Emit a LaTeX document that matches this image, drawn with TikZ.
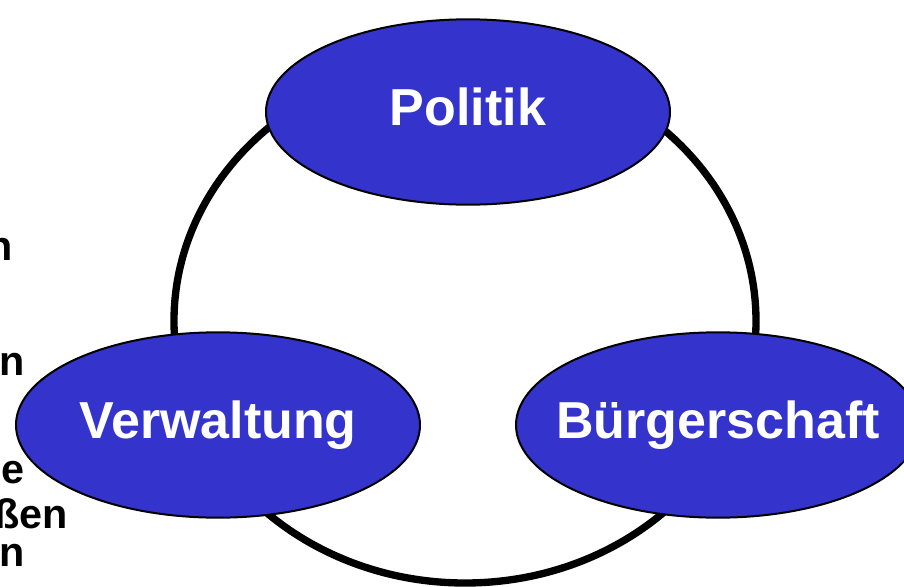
\documentclass[tikz,border=0pt]{standalone}
\usepackage{fontspec}
\setmainfont{Liberation Sans}
\usepackage{tikz}
\usetikzlibrary{shapes}
\definecolor{bubbleblue}{RGB}{52,52,204}

\begin{document}
\begin{tikzpicture}[x=0.75pt, y=-0.75pt,
	bubble/.style={ellipse, draw=black, line width=1.5pt, fill=bubbleblue, minimum width=303pt, minimum height=139pt, inner sep=0},
	bubbletext/.style={text=white, font=\fontsize{39}{45}\selectfont\bfseries, inner sep=0, text height=28pt, text depth=8pt},
	fragment/.style={anchor=base east, inner sep=0, font=\fontsize{31}{36}\selectfont\bfseries},
	ring/.style={draw=black, line width=5.5pt}
]
\useasboundingbox (0,0) rectangle (904,586);

% cut-off text at the left edge
\node[fragment] (frag1) at (13,260) {n};
\node[fragment] (frag2) at (25,375) {n};
\node[fragment] (frag3) at (25,483) {e};
\node[fragment] (frag4) at (68,528) {ßen};
\node[fragment] (frag5) at (25,566) {n};

% the ring
\coordinate (mid) at (465,321);
\draw[ring] (mid) ellipse [x radius=291, y radius=262];

\node[bubble, label={[bubbletext]center:Politik}] (pol) at (468,112) {};
\node[bubble, label={[bubbletext]center:Verwaltung}] (verw) at (218,425) {};
\node[bubble, label={[bubbletext]center:Bürgerschaft}] (buerg) at (718,425) {};
\end{tikzpicture}
\end{document}
